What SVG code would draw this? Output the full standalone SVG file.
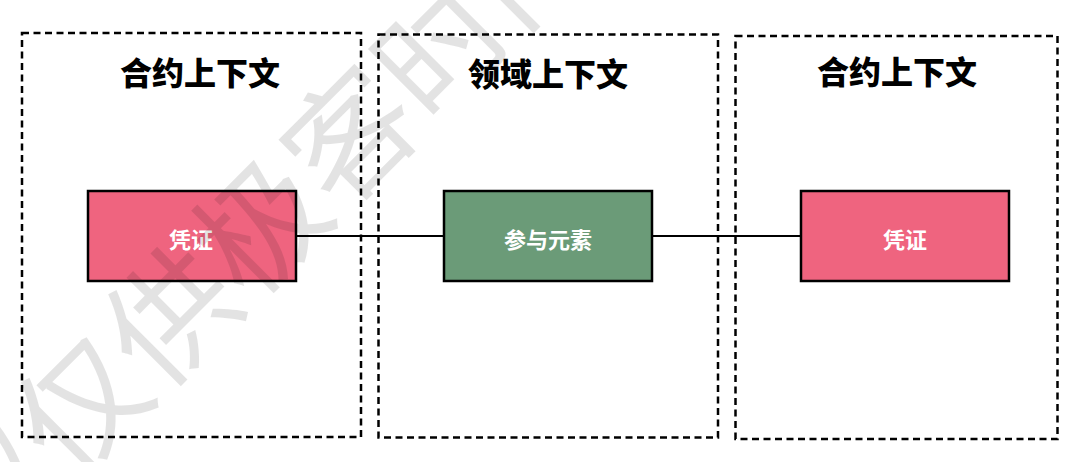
<svg xmlns="http://www.w3.org/2000/svg" width="1080" height="462" viewBox="0 0 1080 462">
  <style>
    .ctx { fill: none; stroke: #000; stroke-width: 2.5; stroke-dasharray: 7 4.5; }
    .title { font-family: "Noto Sans CJK SC", "Liberation Sans", sans-serif; font-weight: 900; font-size: 32px; fill: #000; text-anchor: middle; }
    .node { stroke: #000; stroke-width: 2.5; }
    .voucher { fill: #ef647f; }
    .element { fill: #6b9b78; }
    .label { font-family: "Noto Sans CJK SC", "Liberation Sans", sans-serif; font-weight: bold; font-size: 22px; fill: #fff; text-anchor: middle; dominant-baseline: central; }
    .link { stroke: #000; stroke-width: 2; fill: none; }
    .mark { font-family: "Noto Sans CJK SC", "Liberation Sans", sans-serif; font-size: 127px; fill: #000; fill-opacity: 0.11; dominant-baseline: central; }
  </style>
  <rect width="1080" height="462" fill="#fff"/>

  <!-- bounded contexts -->
  <g id="ctx-contract-left">
    <rect class="ctx" x="22" y="33" width="339" height="404"/>
    <text class="title" x="200" y="85">合约上下文</text>
  </g>
  <g id="ctx-domain">
    <rect class="ctx" x="378.5" y="34.5" width="339.5" height="403"/>
    <text class="title" x="548" y="86">领域上下文</text>
  </g>
  <g id="ctx-contract-right">
    <rect class="ctx" x="735.5" y="36" width="322" height="403"/>
    <text class="title" x="897" y="84">合约上下文</text>
  </g>

  <!-- connectors -->
  <g id="connectors">
    <line class="link" x1="296" y1="236" x2="444" y2="236"/>
    <line class="link" x1="652" y1="236" x2="801" y2="236"/>
  </g>

  <!-- elements -->
  <g id="voucher-left">
    <rect class="node voucher" x="88" y="191" width="208" height="90"/>
    <text class="label" x="191" y="238">凭证</text>
  </g>
  <g id="participant">
    <rect class="node element" x="444" y="191" width="208" height="90"/>
    <text class="label" x="548" y="238">参与元素</text>
  </g>
  <g id="voucher-right">
    <rect class="node voucher" x="801" y="191" width="208" height="90"/>
    <text class="label" x="905" y="238">凭证</text>
  </g>

  <!-- watermark -->
  <text class="mark" transform="translate(75,400) rotate(-45)" x="-190" y="0">权仅供极客时间</text>
</svg>
